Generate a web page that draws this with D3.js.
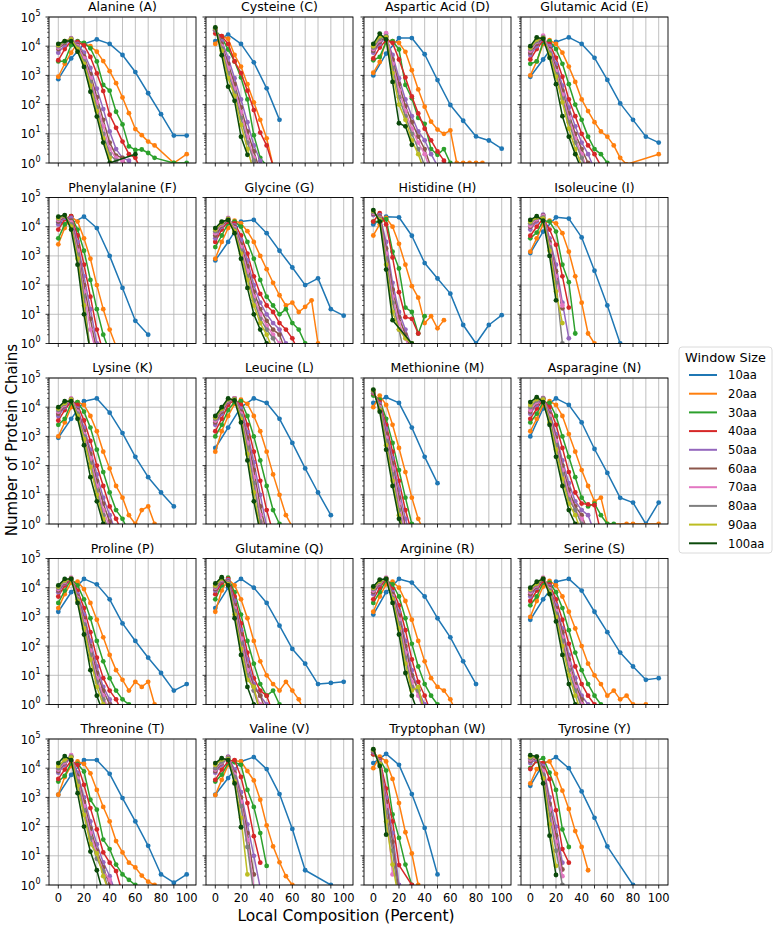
<!DOCTYPE html>
<html>
<head>
<meta charset="utf-8">
<script src="https://cdn.jsdelivr.net/npm/d3@7"></script>
<style>
  body { margin: 0; background: #fff; }
  text { font-family: "DejaVu Sans", sans-serif; fill: #000; }
</style>
</head>
<body>
<div id="chart"></div>
<script>
// one panel per amino acid, same order as every array below
const aminoAcids = ["Alanine (A)", "Cysteine (C)", "Aspartic Acid (D)", "Glutamic Acid (E)",
  "Phenylalanine (F)", "Glycine (G)", "Histidine (H)", "Isoleucine (I)",
  "Lysine (K)", "Leucine (L)", "Methionine (M)", "Asparagine (N)",
  "Proline (P)", "Glutamine (Q)", "Arginine (R)", "Serine (S)",
  "Threonine (T)", "Valine (V)", "Tryptophan (W)", "Tyrosine (Y)"];

const windowSizes = [10, 20, 30, 40, 50, 60, 70, 80, 90, 100];
const colors = ["#1f77b4", "#ff7f0e", "#2ca02c", "#d62728", "#9467bd",
  "#8c564b", "#e377c2", "#7f7f7f", "#bcbd22", "#0b4a0b"];

const xTicks = [0, 10, 20, 30, 40, 50, 60, 70, 80, 90, 100];
const xTickLabels = [0, 20, 40, 60, 80, 100];
const yTicks = [1, 10, 100, 1000, 10000, 100000];

// counts per composition bin; 10aa bins are 10% wide, all others 5% wide. null = no point
const w10 = [
  [740, 3800, 12000, 17000, 12000, 5000, 1300, 245, 47, 8.7, 8.7],
  [15000, 25000, 12000, 2800, 360, 30],
  [1000, 5600, 19000, 19000, 5300, 690, 97, 28, 8.1, 5.9, 3.1],
  [900, 3500, 14000, 20000, 12000, 4000, 700, 110, 30, 8, 5],
  [14000, 13000, 22000, 9000, 1000, 80, 6, 2],
  [700, 3000, 15000, 17000, 6000, 1500, 400, 100, 170, 15, 9],
  [12000, 22000, 21000, 4900, 570, 168, 51, 4.3, 1, 4.3, 9.3],
  [1250, 6800, 21000, 19000, 4300, 310, 20, 1],
  [900, 4000, 16000, 20000, 6500, 1300, 200, 40, 12, 4],
  [400, 2000, 10000, 20000, 14000, 4000, 600, 80, 12, 2],
  [14000, 22000, 14000, 2000, 200, 25],
  [1000, 9000, 20000, 12000, 3000, 370, 56, 7.9, 5.4, 1, 5.4],
  [1500, 7000, 20000, 13000, 4000, 600, 150, 40, 12, 3, 5],
  [2000, 10000, 20000, 10000, 3000, 500, 80, 25, 5, 5.5, 6],
  [1200, 7000, 20000, 15000, 5000, 900, 200, 30, 5],
  [800, 4000, 16000, 20000, 8000, 1500, 300, 60, 20, 7, 8],
  [1230, 5900, 19000, 19000, 6400, 950, 150, 22, 2.3, 1.2, 2.3],
  [1230, 4600, 17000, 24000, 9300, 1300, 83, 3.2, null, 1],
  [15000, 31000, 13000, 1300, 90, 2.3],
  [2500, 14000, 24000, 10000, 1600, 200, 21, null, 1]
];
const w20 = [
  [900, 2500, 6000, 13000, 12000, 10000, 6500, 3100, 1400, 540, 175, 51, 14.5, 9, 5.4, 4, null, null, 1, null, 2],
  [12000, 22000, 18000, 5000, 2000, 500, 120, 30, 7, 0.8],
  [1230, 2900, 16000, 15000, 13000, 6400, 1500, 330, 85, 26, 14, 10, 13, 1, 1, 1, 1, 1],
  [1000, 3000, 12000, 16000, 12000, 6000, 2000, 600, 150, 60, 25, 12, 8, 4, 1.5, 0.9, null, null, null, null, 2],
  [2500, 9000, 22000, 15000, 4000, 800, 100, 15, 3, 0.8],
  [800, 3000, 9000, 16000, 13000, 7000, 3000, 1000, 350, 120, 45, 20, 25, 12, 18, 30, 1],
  [5000, 12000, 20000, 10000, 2600, 500, 92, 37, 5, 8.6, 3.3, 6.3],
  [1400, 4000, 12000, 16000, 13000, 6000, 1400, 200, 25, 2.2, 1],
  [1000, 3000, 10000, 15000, 12000, 5000, 1500, 300, 80, 20, 8, 2, 1, 3, 4, 1],
  [300, 1500, 5000, 13000, 18000, 13000, 5000, 1500, 300, 50, 10, 2, 0.8],
  [10000, 25000, 12000, 2500, 400, 60, 8, 1.5, 0.5],
  [1500, 4000, 12000, 16000, 12000, 5000, 1200, 300, 70, 20, 6, 8, 1, null, null, 1, 1, null, null, null, 1],
  [2000, 6000, 15000, 16000, 9000, 3000, 800, 200, 50, 15, 7, 3, 6, 4, 6, 1],
  [1500, 8000, 20000, 12000, 4000, 900, 150, 30, 10, 5, 3, 6, 3, 1.5, 0.5],
  [1500, 5000, 13000, 16000, 10000, 3500, 800, 150, 30, 8, 4, 3, 1.5, 0.5],
  [1000, 3500, 11000, 17000, 12000, 5000, 1500, 400, 100, 25, 10, 5, 2, 3, 1.5, 2, 1, null, 1],
  [1230, 5000, 12000, 17000, 14000, 6700, 1800, 470, 150, 32, 13, 5.8, 4, 2.1, 1.3, 1],
  [1200, 4000, 13000, 18000, 17000, 8000, 3800, 830, 110, 21, 6, 2, 1],
  [10000, 25000, 17000, 4300, 640, 64, 12, 1],
  [3000, 9300, 15000, 17000, 6400, 1700, 400, 70, 20, 3.2]
];
const w30 = [
  [3000, 3100, 11000, 15000, 13000, 8500, 3000, 470, 300, 57, 21, 3.7, 2.8, 2.9, 2.2, 1.5, null, null, 1, null, 1],
  [35000, 20000, 7700, 3000, 850, 150, 9, 1.5, 0.8],
  [3300, 4300, 14000, 15000, 7700, 470, 165, 35, 22, 3, 1.9, 3, 1],
  [2500, 3000, 14000, 15000, 8000, 2500, 500, 100, 30, 8, 3, 2, 1, 0.5],
  [4000, 12000, 23000, 8000, 1500, 150, 15, 2, 0.5],
  [2000, 5000, 13000, 15000, 10000, 3000, 800, 150, 40, 20, 10, 15, 5, 3, 1],
  [15000, 15000, 18000, 1400, 370, 17, 12, 2.2, 8.6],
  [4000, 6300, 16000, 15000, 6800, 500, 125, 2.2],
  [2500, 4000, 14000, 15000, 7000, 2000, 350, 60, 12, 3, 1.5, 0.5],
  [1000, 2500, 8000, 15000, 16000, 5000, 1000, 150, 20, 3, 1, 0.5],
  [25000, 18000, 4000, 600, 70, 8, 1, 0.3],
  [3000, 6000, 15000, 14000, 5000, 1000, 200, 40, 8, 4, 5, 2, 1, 1],
  [3000, 8000, 20000, 12000, 4000, 900, 150, 30, 8, 3, 1.5, 1, 0.5],
  [4000, 12000, 22000, 7000, 1200, 150, 25, 5, 2, 3, 1, 0.5],
  [3000, 7000, 18000, 13000, 5000, 900, 120, 20, 5, 2, 1, 0.4],
  [2500, 5000, 15000, 15000, 7000, 2000, 350, 60, 15, 5, 2, 1, 0.5],
  [3500, 5500, 15000, 14000, 7700, 830, 380, 36, 17, 5, 2.3, 1.5, 1],
  [3500, 6000, 15000, 16000, 13000, 1800, 470, 60, 4.5],
  [30000, 20000, 8300, 260, 41, 5, 1],
  [10000, 18000, 22000, 7000, 1800, 80, 20]
];
const w40 = [
  [3300, 8000, 15000, 14000, 10700, 4300, 1170, 290, 45, 16, 5.4, 2, 1.5, 0.5],
  [27000, 22000, 12000, 3000, 1200, 300, 65, 11, 4, 0.8],
  [3800, 9000, 16000, 13000, 3500, 850, 190, 50, 15, 6, 2.5, 1.2, 0.5],
  [3500, 8000, 16000, 12000, 4000, 900, 150, 40, 10, 4, 2, 0.8],
  [8000, 18000, 23000, 5000, 500, 40, 3, 0.5],
  [3000, 8000, 15000, 13000, 5000, 1200, 200, 50, 20, 12, 5, 3, 1.5, 0.5],
  [15000, 29000, 12000, 880, 57, 8, 7, 2.2],
  [4900, 10000, 19000, 8000, 2400, 200, 17],
  [3500, 8000, 16000, 12000, 3500, 700, 100, 20, 4, 1.5, 0.5],
  [1500, 4000, 12000, 18000, 12000, 2500, 300, 30, 3, 0.5],
  [30000, 15000, 2500, 300, 30, 3, 0.5],
  [4000, 9000, 18000, 10000, 2500, 400, 60, 12, 5, 4.7, 4.4, 0.5],
  [5000, 12000, 20000, 8000, 2000, 300, 40, 8, 3, 1.5, 0.5],
  [6000, 15000, 20000, 5000, 600, 60, 8, 3, 2, 0.5],
  [4000, 10000, 20000, 9000, 2500, 350, 35, 6, 2, 0.5],
  [3500, 8000, 17000, 13000, 4000, 800, 120, 20, 5, 2, 1, 0.4],
  [4300, 9000, 18000, 13000, 2700, 430, 80, 13, 5.8, 3, 0.5],
  [4000, 9000, 17000, 19000, 5000, 640, 47, 5.8],
  [30000, 20000, 2000, 150, 4.8, null, 1],
  [9300, 18000, 15000, 4200, 360, 17, 5.8]
];
const w50 = [
  [6000, 11000, 17000, 12000, 6000, 1800, 350, 70, 12, 3, 1.5, 1.2, 0.5],
  [35000, 15000, 4000, 800, 150, 25, 4, 1.2, 0.5],
  [6000, 12000, 20000, 5000, 800, 150, 40, 12, 6, 2, 0.8],
  [5000, 10000, 18000, 10000, 2500, 450, 80, 18, 5, 2, 0.6],
  [12000, 20000, 20000, 3000, 200, 15, 1, 0.3],
  [4000, 10000, 17000, 11000, 3500, 700, 100, 25, 10, 5, 3, 1, 0.4],
  [25000, 25000, 3000, 120, 12, 3, 0.8],
  [8000, 15000, 26000, 4000, 500, 25, 1.5],
  [5000, 10000, 18000, 9000, 2000, 350, 50, 8, 2, 0.5],
  [2500, 6000, 15000, 20000, 9000, 1400, 130, 10, 0.8],
  [32000, 13000, 1800, 180, 15, 1.5, 0.3],
  [6000, 12000, 20000, 7000, 1200, 150, 25, 6, 3, 2, 0.5],
  [7000, 14000, 21000, 6000, 1200, 150, 20, 4, 1.5, 0.5],
  [8000, 17000, 18000, 3500, 350, 35, 5, 2, 1, 0.3],
  [6000, 13000, 21000, 7000, 1500, 150, 15, 3, 1, 0.3],
  [5000, 10000, 20000, 11000, 2500, 400, 50, 8, 2, 1, 0.4],
  [7000, 13000, 24000, 7000, 1000, 150, 25, 6, 2, 0.5],
  [7000, 13000, 25000, 9000, 1500, 120, 10, 0.8],
  [35000, 18000, 1000, 60, 1, 0.3],
  [15000, 20000, 12000, 1000, 100, 5.8]
];
const w60 = [
  [8000, 13000, 18000, 11000, 4500, 1100, 180, 30, 5, 1.8, 1.5, 0.5],
  [38000, 12000, 2500, 500, 80, 12, 2.5, 0.5],
  [7000, 14000, 22000, 3500, 500, 90, 25, 8, 3, 0.7],
  [6000, 12000, 20000, 8000, 1800, 300, 50, 10, 3, 1, 0.4],
  [15000, 22000, 16000, 2000, 100, 7, 0.5],
  [5000, 11000, 18000, 10000, 2500, 450, 60, 15, 6, 3, 2, 0.5],
  [28000, 22000, 1800, 70, 8, 2, 0.5],
  [10000, 17000, 24000, 3000, 300, 16],
  [6000, 11000, 19000, 8000, 1500, 250, 30, 5, 1.2, 0.4],
  [3000, 7000, 16000, 20000, 7000, 900, 70, 4, 0.5],
  [34000, 11000, 1200, 120, 8, 0.8],
  [7000, 14000, 20000, 6000, 900, 100, 15, 4, 2, 0.5],
  [8000, 15000, 21000, 5000, 900, 100, 12, 3, 1, 0.4],
  [9000, 18000, 16000, 2500, 250, 20, 4, 2, 0.5],
  [7000, 14000, 21000, 6000, 1100, 100, 10, 3, 0.5],
  [6000, 11000, 21000, 10000, 2000, 300, 35, 5, 1.5, 0.5],
  [8000, 15000, 25000, 5500, 700, 90, 15, 4, 1, 0.4],
  [8000, 15000, 24000, 7000, 1000, 60, 2.3],
  [38000, 17000, 700, 30, 0.5],
  [18000, 22000, 10000, 600, 50, 3.4]
];
const w70 = [
  [9000, 14000, 19000, 10000, 3800, 800, 120, 18, 3, 1.5, 1.2, 0.4],
  [40000, 10000, 1800, 350, 55, 8, 1.5, 0.4],
  [8000, 16000, 28000, 2500, 300, 60, 15, 5, 2, 0.5],
  [7000, 14000, 23000, 7000, 1400, 220, 35, 7, 2, 0.5],
  [17000, 23000, 14000, 1500, 60, 3, 0.4],
  [6000, 12000, 20000, 9000, 2000, 300, 40, 10, 4, 2, 1, 0.4],
  [30000, 20000, 1200, 40, 5, 1.5, 0.4],
  [11000, 18000, 23000, 2500, 200, 20],
  [7000, 12000, 20000, 7000, 1200, 180, 20, 3, 0.8],
  [3500, 8000, 17000, 20000, 6000, 600, 40, 2, 0.3],
  [35000, 10000, 900, 80, 5, 0.5],
  [8000, 15000, 21000, 5000, 700, 70, 10, 3, 1.5, 0.5],
  [9000, 16000, 22000, 4500, 700, 70, 8, 2, 0.5],
  [10000, 19000, 15000, 2000, 180, 15, 3, 1, 0.3],
  [8000, 15000, 22000, 5000, 800, 60, 6, 2, 0.5],
  [7000, 12000, 22000, 9000, 1600, 200, 25, 4, 1, 0.4],
  [9000, 16000, 28000, 4500, 500, 60, 12, 3, 1.5, 0.4],
  [9000, 16000, 23000, 6000, 700, 35, 0.8],
  [40000, 16000, 500, 2.3],
  [20000, 23000, 8000, 400, 30, 2]
];
const w80 = [
  [10000, 14000, 18000, 9000, 3000, 600, 80, 10, 2, 1.2, 0.5],
  [41000, 8500, 1200, 250, 35, 5, 1.2, 0.4],
  [9000, 18000, 22000, 1800, 180, 40, 10, 3, 0.8],
  [8000, 15000, 20000, 6000, 1100, 160, 25, 5, 1.5, 0.4],
  [19000, 23000, 12000, 1100, 40, 0.5],
  [7000, 13000, 19000, 8000, 1500, 200, 30, 7, 3, 1.5, 0.5],
  [32000, 19000, 800, 25, 3, 0.3],
  [13000, 20000, 21000, 2000, 120, 1],
  [8000, 13000, 19000, 6000, 1000, 120, 14, 2, 0.5],
  [4000, 8500, 18000, 19000, 5000, 400, 25, 1.2, 0.3],
  [36000, 9000, 700, 50, 3, 0.3],
  [10000, 17000, 20000, 4000, 500, 50, 7, 3, 1, 0.4],
  [10000, 17000, 21000, 4000, 550, 50, 6, 1.5, 0.4],
  [11000, 20000, 14000, 1600, 120, 10, 3, 0.5],
  [9000, 16000, 21000, 4500, 600, 40, 4, 3, 0.5],
  [8000, 13000, 21000, 8000, 1300, 150, 15, 3, 0.8],
  [10000, 18000, 25000, 3500, 350, 40, 8, 3, 0.5],
  [10000, 17000, 22000, 5000, 500, 20, 0.5],
  [41000, 15000, 300, 15, 0.3],
  [22000, 25000, 6000, 250, 15, 1]
];
const w90 = [
  [11000, 15000, 17000, 8000, 2500, 450, 60, 7, 1.5, 0.5],
  [42000, 7000, 800, 200, 20, 3, 0.5],
  [10000, 22000, 20000, 1200, 100, 30, 6, 2, 0.5],
  [9000, 17000, 19000, 5000, 900, 120, 15, 3, 0.8],
  [20000, 24000, 10000, 800, 20, 0.4],
  [8000, 14000, 18000, 7000, 1200, 150, 20, 5, 2, 0.6],
  [35000, 17000, 500, 12, 3, 1.5, 1],
  [15000, 21000, 19000, 1500, 60, 5],
  [9000, 14000, 18000, 5000, 800, 90, 10, 1.5, 0.4],
  [4500, 9000, 19000, 18000, 4000, 250, 12, 0.6],
  [38000, 8000, 500, 30, 2, 0.3],
  [12000, 19000, 18000, 3000, 350, 35, 5, 2, 0.5],
  [11000, 18000, 20000, 3500, 400, 35, 4, 1, 0.3],
  [12000, 21000, 13000, 1200, 80, 7, 4, 0.5],
  [10000, 17000, 20000, 4000, 400, 25, 3, 4, 0.5],
  [9000, 14000, 20000, 7000, 1000, 100, 10, 2, 0.5],
  [12000, 20000, 23000, 2500, 250, 25, 12, 2, 0.5],
  [13000, 20000, 20000, 3500, 200, 2.3],
  [43000, 14000, 150, 5, 0.3],
  [25000, 24000, 4500, 120, 4.5]
];
const w100 = [
  [12000, 15000, 15000, 6500, 1950, 275, 39, 5, 1, null, null, null, 2],
  [44000, 4900, 410, 135, 8, 1.9],
  [12000, 27000, 17000, 600, 23, 18, 4.2],
  [10000, 20000, 18000, 4000, 500, 40, 8, 2, 0.6],
  [22000, 25000, 8000, 500, 10, 0.5],
  [9000, 15000, 17000, 6000, 800, 80, 10, 3, 1, 0.5],
  [37000, 15000, 340, 6.3, null, null, 1],
  [17000, 23000, 16000, 1000, 30],
  [10000, 16000, 16000, 4000, 500, 40, 6, 1, 0.3],
  [5000, 10000, 20000, 17000, 3000, 150, 6, 0.5],
  [40000, 7000, 350, 20, 1.5, 0.2],
  [15000, 22000, 15000, 2500, 200, 20, 3, 1, 0.5],
  [12000, 20000, 20000, 3000, 250, 15, 2, 0.5],
  [14000, 23000, 12000, 900, 50, 4, 1, 0.3],
  [11000, 19000, 20000, 3000, 250, 12, 2, 0.5],
  [10000, 16000, 20000, 6000, 700, 50, 5, 1, 0.3],
  [15000, 26000, 19000, 1400, 100, 14, 3.2, 0.5],
  [15000, 22000, 19000, 3000, 95],
  [45000, 12000, 53],
  [28000, 25000, 3000, 49, 2.2]
];
const allWindows = [w10, w20, w30, w40, w50, w60, w70, w80, w90, w100];

const width = 776, height = 927;
const colLeft = [49, 206, 364, 521];
const rowTop = [17, 197.5, 378, 558.5, 739];
const panelW = 147, panelH = 146;

let svg = d3.select("#chart")
    .append("svg")
    .attr("width", width)
    .attr("height", height);

let x = d3.scaleLinear()
    .domain([-7.25, 107.25])
    .range([0, panelW]);

let y = d3.scaleLog()
    .domain([1, 1e5])
    .range([panelH, 0]);

let line = d3.line()
    .x(d => x(d.x))
    .y(d => y(d.v));

// log minor ticks 2..9 in every decade
let minorTicks = [];
yTicks.slice(0, -1).forEach(t => {
    for (let m = 2; m < 10; m++) minorTicks.push(t * m);
});

aminoAcids.forEach((name, i) => {
    let col = i % 4, row = Math.floor(i / 4);
    let g = svg.append("g")
        .attr("transform", `translate(${colLeft[col]},${rowTop[row]})`);

    svg.append("clipPath")
        .attr("id", "clip" + i)
        .append("rect")
        .attr("width", panelW)
        .attr("height", panelH);

    // grid
    g.selectAll(".gx").data(xTicks).enter().append("line")
        .attr("x1", d => x(d)).attr("x2", d => x(d))
        .attr("y1", 0).attr("y2", panelH)
        .attr("stroke", "#b0b0b0").attr("stroke-width", 0.8);
    g.selectAll(".gy").data(yTicks).enter().append("line")
        .attr("x1", 0).attr("x2", panelW)
        .attr("y1", d => y(d)).attr("y2", d => y(d))
        .attr("stroke", "#b0b0b0").attr("stroke-width", 0.8);

    let plot = g.append("g").attr("clip-path", `url(#clip${i})`);

    allWindows.forEach((series, s) => {
        let step = s === 0 ? 10 : 5;
        let pts = series[i]
            .map((v, k) => ({x: k * step, v: v}))
            .filter(d => d.v !== null);

        plot.append("path")
            .datum(pts)
            .attr("fill", "none")
            .attr("stroke", colors[s])
            .attr("stroke-width", 1.5)
            .attr("stroke-linejoin", "round")
            .attr("d", line);

        plot.selectAll(null).data(pts).enter().append("circle")
            .attr("cx", d => x(d.x))
            .attr("cy", d => y(d.v))
            .attr("r", 2.4)
            .attr("fill", colors[s]);
    });

    // frame
    g.append("rect")
        .attr("width", panelW).attr("height", panelH)
        .attr("fill", "none").attr("stroke", "#000").attr("stroke-width", 0.9);

    // ticks
    g.selectAll(".tx").data(xTicks).enter().append("line")
        .attr("x1", d => x(d)).attr("x2", d => x(d))
        .attr("y1", panelH).attr("y2", panelH + 3.5)
        .attr("stroke", "#000").attr("stroke-width", 0.8);
    g.selectAll(".ty").data(yTicks).enter().append("line")
        .attr("x1", -3.5).attr("x2", 0)
        .attr("y1", d => y(d)).attr("y2", d => y(d))
        .attr("stroke", "#000").attr("stroke-width", 0.8);
    g.selectAll(".tm").data(minorTicks).enter().append("line")
        .attr("x1", -2).attr("x2", 0)
        .attr("y1", d => y(d)).attr("y2", d => y(d))
        .attr("stroke", "#000").attr("stroke-width", 0.6);

    g.append("text")
        .attr("x", panelW / 2)
        .attr("y", -6)
        .style("text-anchor", "middle")
        .style("font-size", "12.5px")
        .text(name);

    if (col === 0) {
        yTicks.forEach(t => {
            let lbl = g.append("text")
                .attr("x", -8.5)
                .attr("y", y(t) + 4.5)
                .style("text-anchor", "end")
                .style("font-size", "11.5px");
            lbl.append("tspan").text("10");
            lbl.append("tspan")
                .attr("dy", -6)
                .style("font-size", "8px")
                .text(Math.round(Math.log10(t)));
        });
    }

    if (row === 4) {
        g.selectAll(".lx").data(xTickLabels).enter().append("text")
            .attr("x", d => x(d))
            .attr("y", panelH + 17)
            .style("text-anchor", "middle")
            .style("font-size", "11.5px")
            .text(d => d);
    }
});

svg.append("text")
    .attr("transform", `translate(${17}, ${440}) rotate(-90)`)
    .style("text-anchor", "middle")
    .style("font-size", "15px")
    .text("Number of Protein Chains");

svg.append("text")
    .attr("x", 346)
    .attr("y", 921)
    .style("text-anchor", "middle")
    .style("font-size", "15.5px")
    .text("Local Composition (Percent)");

// legend
let legend = svg.append("g").attr("transform", "translate(679,347)");
legend.append("rect")
    .attr("width", 93).attr("height", 206)
    .attr("rx", 3)
    .attr("fill", "#fff").attr("stroke", "#d0d0d0").attr("stroke-width", 0.8);
legend.append("text")
    .attr("x", 46.5).attr("y", 15)
    .style("text-anchor", "middle")
    .style("font-size", "12.8px")
    .text("Window Size");

windowSizes.forEach((w, s) => {
    let ly = 28 + s * 18.7;
    legend.append("line")
        .attr("x1", 10).attr("x2", 38)
        .attr("y1", ly).attr("y2", ly)
        .attr("stroke", colors[s]).attr("stroke-width", 2);
    legend.append("text")
        .attr("x", 49).attr("y", ly + 4.2)
        .style("font-size", "11.6px")
        .text(w + "aa");
});
</script>
</body>
</html>
